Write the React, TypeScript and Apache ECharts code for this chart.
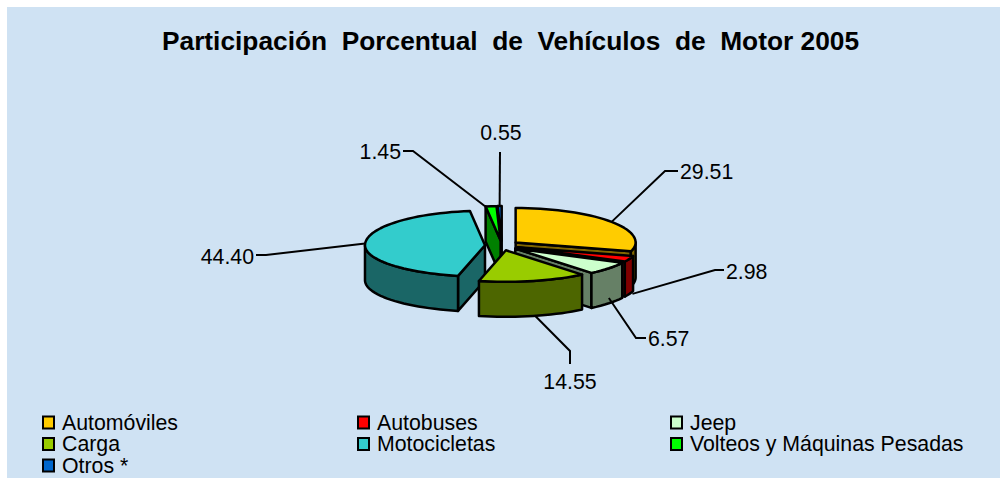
import React, { useEffect, useRef } from "react";
import * as echarts from "echarts";

const categories = ["Automóviles", "Autobuses", "Jeep", "Carga", "Motocicletas", "Volteos y Máquinas Pesadas", "Otros *"];
const values = [29.51, 2.98, 6.57, 14.55, 44.4, 1.45, 0.55];
const colors = ["#FFCC00", "#FF0000", "#CCFFCC", "#99CC00", "#33CCCC", "#00FF00", "#0066CC"];
const titleText = "Participación  Porcentual  de  Vehículos  de  Motor 2005";

// paint order of the slices, back to front (index into categories)
const paintOrder = [6, 5, 0, 1, 2, 4, 3];

// layout of the 3-D pie
const CX = 502, CY = 245.5, RX = 120, RY_BACK = 34.5, RY_FRONT = 31.5, DEPTH = 35, EXPLODE = 0.142;
const FONT = "Liberation Sans";
const FS = 21.3;

// leader line layout per slice: elbow, end, text anchor, start on lower rim?, start x shift
const leaders = [
  { elbow: [665, 171], end: [678, 171], text: [680, 172], drop: 0, dx: 0, align: "left" },
  { elbow: [715, 270], end: [724, 270], text: [726, 272], drop: 1, dx: 3, align: "left" },
  { elbow: [636, 338], end: [646, 338], text: [648, 339], drop: 0.85, dx: 0, align: "left" },
  { elbow: [570, 351], end: [570, 364], text: [570, 382], drop: 1, dx: 2, align: "center" },
  { elbow: [266, 255], end: [256, 255], text: [254, 257], drop: 0, dx: 0, align: "right" },
  { elbow: [413, 151], end: [403, 151], text: [401, 152], drop: 0, dx: -6, align: "right" },
  { elbow: [500, 152], end: [500, 152], text: [501, 133], drop: 0, dx: 0, align: "center" },
];

const total = values.reduce((a, b) => a + b, 0);
const starts = values.map((_, i) => (values.slice(0, i).reduce((a, b) => a + b, 0) / total) * 360);

const rad = (d: number) => (d * Math.PI) / 180;
function rim(apex: number[], deg: number, down = 0) {
  const c = Math.cos(rad(deg));
  return [apex[0] + RX * Math.sin(rad(deg)), apex[1] - (c > 0 ? RY_BACK : RY_FRONT) * c + down];
}
function arc(apex: number[], a: number, b: number, down = 0) {
  const n = Math.max(2, Math.ceil(Math.abs(b - a) / 3));
  const pts: number[][] = [];
  for (let i = 0; i <= n; i++) pts.push(rim(apex, a + ((b - a) * i) / n, down));
  return pts;
}
function shade(hex: string) {
  const n = parseInt(hex.slice(1), 16);
  const c = [(n >> 16) & 255, (n >> 8) & 255, n & 255].map((v) => Math.round(v * 0.5));
  return `rgb(${c[0]},${c[1]},${c[2]})`;
}

const edge = { stroke: "#000", lineWidth: 2.5, lineJoin: "round" as const };

function sliceRenderer(i: number) {
  return (_params: any, api: any) => {
    const value = api.value(0) as number;
    const a = starts[i];
    const b = a + (value / total) * 360;
    const mid = (a + b) / 2;
    const apex = [
      CX + RX * EXPLODE * Math.sin(rad(mid)),
      CY - RY_BACK * EXPLODE * Math.cos(rad(mid)),
    ];
    const top = colors[i];
    const wall = shade(top);
    const children: any[] = [];
    const poly = (points: number[][], fill: string) =>
      children.push({ type: "polygon", shape: { points }, style: { ...edge, fill } });

    const sinA = Math.sin(rad(a));
    const sinB = Math.sin(rad(b));
    if (sinA < -1e-6) {
      poly([apex, rim(apex, a), rim(apex, a, DEPTH), [apex[0], apex[1] + DEPTH]], wall);
    }
    if (sinB > 1e-6) {
      poly([apex, rim(apex, b), rim(apex, b, DEPTH), [apex[0], apex[1] + DEPTH]], wall);
    }
    const fa = Math.max(a, 90);
    const fb = Math.min(b, 270);
    if (fb > fa) {
      poly([...arc(apex, fa, fb), ...arc(apex, fb, fa, DEPTH)], wall);
    }
    poly([apex, ...arc(apex, a, b)], top);

    const l = leaders[i];
    const s = rim(apex, mid, DEPTH * l.drop);
    s[0] += l.dx;
    children.push({
      type: "polyline",
      shape: { points: [s, l.elbow, l.end] },
      style: { stroke: "#000", lineWidth: 2, fill: "none" },
    });
    children.push({
      type: "text",
      style: {
        x: l.text[0],
        y: l.text[1],
        text: value.toFixed(2),
        fill: "#000",
        font: `${FS}px "${FONT}"`,
        textAlign: l.align,
        textVerticalAlign: "middle",
      },
    });
    return { type: "group", children };
  };
}

const legendBase = {
  orient: "vertical" as const,
  icon: "rect",
  itemWidth: 11,
  itemHeight: 12,
  itemGap: 0.5,
  padding: 0,
  height: 120,
  itemStyle: { borderColor: "#000", borderWidth: 2 },
  textStyle: { fontFamily: FONT, fontSize: FS, color: "#000", lineHeight: 20, padding: [0, 0, 0, 3] },
  selectedMode: false,
};

export default function App() {
  const ref = useRef<HTMLDivElement>(null);
  useEffect(() => {
    document.body.style.margin = "0";
    const chart = echarts.init(ref.current!, undefined, { renderer: "svg" });
    chart.setOption({
      animation: false,
      backgroundColor: "#fff",
      title: {
        text: titleText,
        left: 505.5,
        top: 23,
        textAlign: "center",
        textStyle: { fontFamily: FONT, fontSize: 26.3, fontWeight: "bold", color: "#000" },
      },
      tooltip: { show: false },
      legend: [
        { ...legendBase, left: 42, top: 412, data: [categories[0], categories[3], categories[6]] },
        { ...legendBase, left: 357, top: 412, data: [categories[1], categories[4]] },
        { ...legendBase, left: 670, top: 412, data: [categories[2], categories[5]] },
      ],
      graphic: [
        {
          type: "rect",
          z: 0,
          silent: true,
          shape: { x: 7, y: 7, width: 993, height: 471 },
          style: { fill: "#CFE2F3" },
        },
      ],
      series: categories.map((name, i) => ({
        type: "custom",
        name,
        coordinateSystem: "none",
        z: 2 + paintOrder.indexOf(i),
        silent: true,
        itemStyle: { color: colors[i] },
        data: [values[i]],
        renderItem: sliceRenderer(i),
      })),
    });
    return () => chart.dispose();
  }, []);
  return <div ref={ref} style={{ position: "absolute", left: 0, top: 0, width: 1000, height: 478 }} />;
}
